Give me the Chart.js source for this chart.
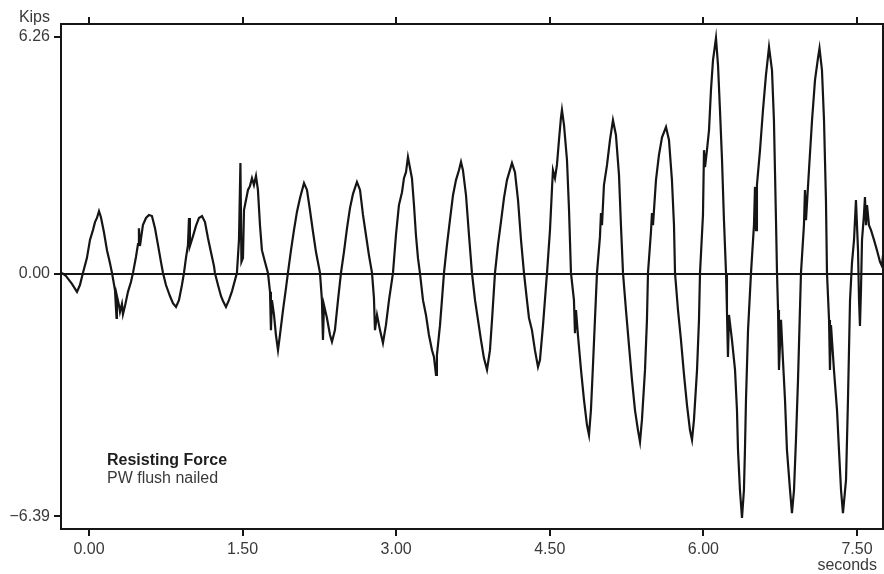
<!DOCTYPE html>
<html><head><meta charset="utf-8">
<script src="https://cdn.jsdelivr.net/npm/chart.js@4.4.0/dist/chart.umd.min.js"></script>
<style>html,body{margin:0;padding:0;background:#fff;overflow:hidden}#wrap{width:884px;height:574px;position:relative}</style>
</head><body><div id="wrap"><canvas id="c" width="884" height="574"></canvas></div>
<script>
// ---- data ----
const timeSeconds = [-0.264,-0.225,-0.166,-0.117,-0.088,-0.059,-0.020,0.010,0.039,0.059,0.078,0.098,0.117,0.146,0.176,0.205,0.225,0.254,0.269,0.273,0.293,0.303,0.322,0.332,0.352,0.381,0.410,0.430,0.459,0.479,0.488,0.498,0.527,0.557,0.586,0.615,0.645,0.674,0.703,0.723,0.752,0.791,0.820,0.850,0.879,0.908,0.928,0.947,0.967,0.977,0.986,1.016,1.045,1.074,1.104,1.133,1.162,1.191,1.221,1.230,1.260,1.289,1.309,1.338,1.367,1.397,1.426,1.445,1.465,1.479,1.489,1.504,1.514,1.533,1.553,1.572,1.592,1.611,1.631,1.650,1.670,1.689,1.719,1.748,1.768,1.777,1.787,1.807,1.826,1.846,1.865,1.895,1.924,1.943,1.973,2.002,2.031,2.061,2.100,2.129,2.158,2.188,2.217,2.256,2.275,2.285,2.295,2.324,2.354,2.373,2.402,2.432,2.461,2.490,2.520,2.549,2.578,2.617,2.647,2.676,2.705,2.734,2.764,2.783,2.793,2.813,2.842,2.871,2.900,2.930,2.969,2.998,3.027,3.057,3.076,3.096,3.115,3.135,3.154,3.174,3.193,3.213,3.232,3.262,3.291,3.320,3.350,3.369,3.389,3.398,3.428,3.447,3.467,3.496,3.525,3.555,3.584,3.613,3.633,3.652,3.682,3.711,3.740,3.770,3.799,3.828,3.857,3.887,3.916,3.936,3.965,3.994,4.023,4.053,4.082,4.131,4.160,4.190,4.219,4.248,4.277,4.297,4.326,4.355,4.385,4.404,4.434,4.473,4.502,4.521,4.531,4.551,4.570,4.590,4.609,4.619,4.639,4.668,4.688,4.707,4.736,4.746,4.756,4.775,4.805,4.834,4.863,4.883,4.902,4.922,4.941,4.961,4.990,5.000,5.010,5.029,5.059,5.088,5.117,5.146,5.176,5.195,5.215,5.244,5.273,5.303,5.332,5.361,5.381,5.400,5.430,5.449,5.459,5.488,5.498,5.508,5.537,5.566,5.596,5.635,5.664,5.693,5.713,5.723,5.752,5.781,5.811,5.840,5.869,5.889,5.908,5.938,5.957,5.967,5.996,6.006,6.016,6.035,6.055,6.074,6.094,6.123,6.143,6.162,6.182,6.201,6.221,6.230,6.240,6.250,6.279,6.309,6.328,6.338,6.357,6.377,6.396,6.406,6.416,6.436,6.465,6.494,6.504,6.514,6.523,6.553,6.582,6.611,6.641,6.670,6.689,6.699,6.709,6.719,6.729,6.738,6.758,6.777,6.797,6.816,6.846,6.865,6.885,6.904,6.924,6.953,6.982,6.992,7.002,7.031,7.061,7.090,7.119,7.134,7.158,7.178,7.197,7.207,7.227,7.236,7.246,7.275,7.305,7.324,7.344,7.363,7.393,7.412,7.432,7.451,7.471,7.490,7.510,7.520,7.529,7.539,7.549,7.568,7.578,7.588,7.598,7.617,7.637,7.666,7.695,7.725,7.744,7.754];
const forceKips = [0.03,-0.05,-0.26,-0.47,-0.29,0.03,0.42,0.90,1.16,1.37,1.48,1.66,1.50,1.11,0.63,0.29,0.03,-0.42,-1.16,-0.58,-0.82,-1.00,-0.79,-1.06,-0.84,-0.47,-0.21,0.03,0.45,0.79,1.21,0.74,1.29,1.48,1.56,1.53,1.21,0.77,0.32,0.03,-0.29,-0.58,-0.77,-0.87,-0.69,-0.29,0.03,0.42,0.77,1.48,0.74,1.00,1.27,1.48,1.53,1.37,0.95,0.58,0.21,0.03,-0.29,-0.58,-0.71,-0.87,-0.69,-0.45,-0.16,0.03,0.90,2.93,0.32,0.42,1.69,1.95,2.22,2.32,2.53,2.35,2.59,2.22,1.29,0.63,0.32,0.03,-0.47,-1.48,-0.69,-1.08,-1.61,-2.01,-1.61,-0.95,-0.37,0.03,0.63,1.16,1.64,2.01,2.40,2.22,1.69,1.11,0.58,0.03,-0.69,-1.74,-0.82,-1.16,-1.61,-1.79,-1.48,-0.69,0.03,0.58,1.21,1.74,2.11,2.43,2.22,1.56,1.03,0.50,0.03,-0.63,-1.48,-1.08,-1.48,-1.82,-1.35,-0.69,0.03,1.03,1.82,2.16,2.53,2.69,3.09,2.80,2.53,1.82,1.03,0.42,0.03,-0.69,-1.08,-1.61,-2.01,-2.19,-2.66,-2.14,-1.35,-0.69,0.03,0.77,1.42,2.08,2.48,2.74,2.96,2.74,2.08,1.03,0.03,-0.69,-1.21,-1.74,-2.22,-2.53,-2.01,-1.21,0.03,0.77,1.37,2.01,2.48,2.93,2.69,1.95,0.90,0.03,-0.69,-1.16,-1.48,-2.01,-2.45,-2.27,-1.35,0.03,1.16,2.22,2.74,2.53,2.88,3.54,4.12,4.33,3.93,3.01,1.69,0.03,-0.69,-1.56,-0.95,-1.61,-2.53,-3.32,-3.98,-4.25,-3.59,-2.40,-1.21,0.03,0.98,1.61,1.29,2.35,2.88,3.54,4.06,3.67,2.61,1.29,0.03,-0.95,-1.87,-2.80,-3.59,-4.12,-4.43,-3.85,-2.53,-1.21,0.03,1.11,1.61,1.29,2.48,3.14,3.61,3.88,3.54,2.48,1.29,0.03,-0.95,-1.74,-2.66,-3.46,-4.12,-4.38,-3.85,-2.53,-1.21,0.03,1.56,3.27,2.82,3.27,3.80,4.85,5.65,6.23,5.51,4.33,3.01,1.42,0.03,-0.95,-2.19,-1.08,-1.74,-2.53,-3.59,-4.64,-5.70,-6.44,-5.70,-4.64,-3.32,-1.48,0.03,1.29,2.30,1.16,2.35,3.27,4.33,5.25,5.99,5.38,4.06,2.74,1.42,0.03,-0.95,-2.53,-1.21,-2.27,-3.32,-4.64,-5.70,-6.31,-5.70,-4.38,-2.80,0.03,1.29,2.22,1.42,2.74,4.06,5.12,5.70,5.96,5.38,4.06,1.95,0.03,-1.21,-2.53,-1.35,-2.53,-3.59,-4.64,-5.70,-6.31,-5.43,-3.32,-0.69,0.29,0.90,1.95,0.63,-0.69,-1.37,-0.42,0.90,1.56,2.03,1.29,1.82,1.29,1.16,0.90,0.63,0.32,0.21,0.50];
const xTickValues = [0, 1.5, 3, 4.5, 6, 7.5];
const xTickLabels = ['0.00', '1.50', '3.00', '4.50', '6.00', '7.50'];
const yTickValues = [-6.39, 0, 6.26];
const yTickLabels = ['\u22126.39', '0.00', '6.26'];
const xRange = [-0.273, 7.754];
const yRange = [-6.73, 6.60];
const yAxisTitle = 'Kips';
const xAxisTitle = 'seconds';
const noteTitle = 'Resisting Force';
const noteSubtitle = 'PW flush nailed';

// ---- chart ----
const FONT = "'Liberation Sans', Arial, Helvetica, sans-serif";
const INK = '#151515';
const TEXT = '#3a3a3a';
const points = timeSeconds.map((t, i) => ({ x: t, y: forceKips[i] }));

const xTicksBuild = s => { s.ticks = xTickValues.map(v => ({ value: v })); };
const xLabel = v => { const i = xTickValues.indexOf(v); return i >= 0 ? xTickLabels[i] : ''; };

const framePlugin = {
  id: 'frame',
  afterDraw(chart) {
    const { ctx, chartArea: a } = chart;
    ctx.save();
    ctx.strokeStyle = INK;
    ctx.lineWidth = 2;
    ctx.strokeRect(a.left, a.top, a.right - a.left, a.bottom - a.top);
    ctx.fillStyle = TEXT;
    ctx.font = '16px ' + FONT;
    ctx.textBaseline = 'middle';
    ctx.textAlign = 'right';
    ctx.fillText(yAxisTitle, 50, 18);
    ctx.fillText(xAxisTitle, 877, 566);
    ctx.textAlign = 'left';
    ctx.fillStyle = '#1e1e1e';
    ctx.font = 'bold 16px ' + FONT;
    ctx.fillText(noteTitle, 107, 461);
    ctx.fillStyle = TEXT;
    ctx.font = '16px ' + FONT;
    ctx.fillText(noteSubtitle, 107, 479);
    ctx.restore();
  }
};

new Chart(document.getElementById('c'), {
  type: 'line',
  data: {
    datasets: [{
      data: points,
      borderColor: INK,
      borderWidth: 2.2,
      pointRadius: 0,
      tension: 0,
      fill: false
    }]
  },
  options: {
    responsive: false,
    animation: false,
    events: [],
    layout: { padding: { left: 0, right: 1, top: 0, bottom: 0 } },
    plugins: { legend: { display: false }, tooltip: { enabled: false } },
    scales: {
      x: {
        type: 'linear', position: 'bottom',
        min: xRange[0], max: xRange[1],
        afterBuildTicks: xTicksBuild,
        afterFit: s => { s.height = 45; },
        border: { display: false },
        grid: { drawOnChartArea: false, drawTicks: true, tickLength: 7, tickColor: INK, lineWidth: 2, color: INK },
        ticks: { callback: xLabel, maxRotation: 0, autoSkip: false, padding: 4, color: TEXT, font: { family: FONT, size: 16 } }
      },
      x2: {
        type: 'linear', position: 'top',
        min: xRange[0], max: xRange[1],
        afterBuildTicks: xTicksBuild,
        afterFit: s => { s.height = 24; },
        border: { display: false },
        grid: { drawOnChartArea: false, drawTicks: true, tickLength: 7, tickColor: INK, lineWidth: 2, color: INK },
        ticks: { display: false }
      },
      y: {
        type: 'linear', position: 'left',
        min: yRange[0], max: yRange[1],
        afterBuildTicks: s => { s.ticks = yTickValues.map(v => ({ value: v })); },
        afterFit: s => { s.width = 61; },
        border: { display: false },
        grid: {
          drawOnChartArea: true, drawTicks: true, tickLength: 7, tickColor: INK, lineWidth: 2,
          color: c => (c.tick && c.tick.value === 0) ? INK : 'rgba(0,0,0,0)'
        },
        ticks: {
          callback: v => { const i = yTickValues.indexOf(v); return i >= 0 ? yTickLabels[i] : ''; },
          autoSkip: false, padding: 4, color: TEXT, font: { family: FONT, size: 16 }
        }
      }
    }
  },
  plugins: [framePlugin]
});
</script>
</body></html>
